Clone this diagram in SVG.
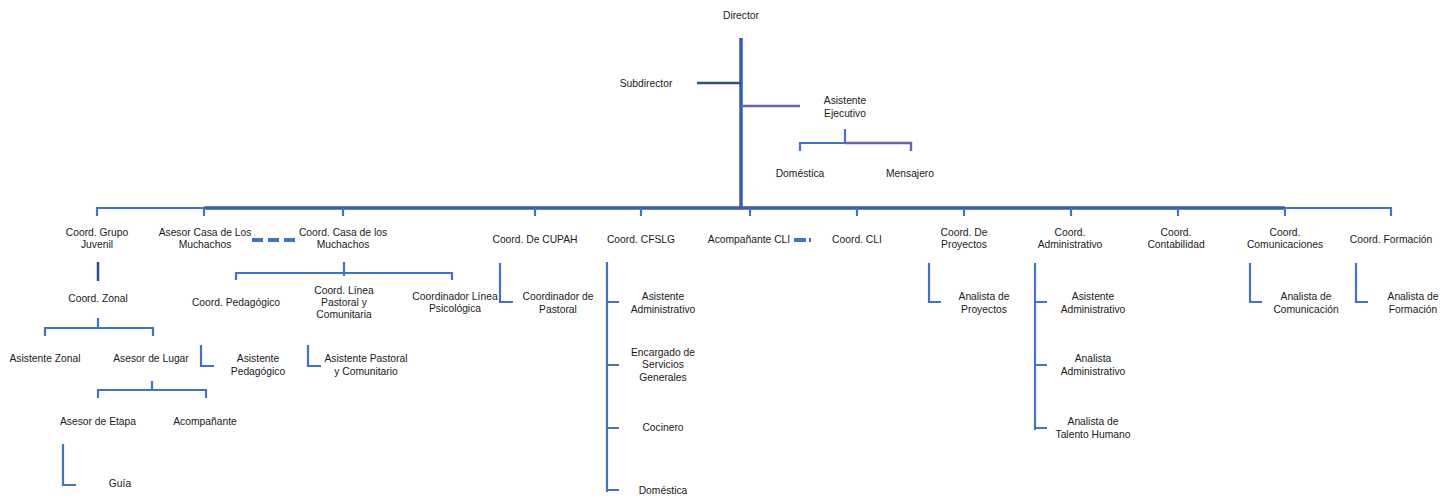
<svg xmlns="http://www.w3.org/2000/svg" width="1454" height="498" viewBox="0 0 1454 498">
<style>
text{font-family:"Liberation Sans",Arial,sans-serif;font-size:10.3px;fill:#1a1a1a;text-anchor:middle}
.c{fill:none;stroke:#4472C4;stroke-width:2.2}
.d{fill:none;stroke:#3A5BA8;stroke-width:3.5}
.k{fill:none;stroke:#2F4C8C;stroke-width:2.5}
.p{fill:none;stroke:#6B62B4;stroke-width:2.4}
</style>
<rect width="1454" height="498" fill="#fff"/>
<g id="connectors">
<path class="d" d="M741 38V208" stroke-width="4.2"/>
<path class="k" d="M697 83H741"/>
<path class="p" d="M741 106H800"/>
<path class="c" d="M845 129V143M800 151V143H845" stroke-width="3"/>
<path class="p" d="M845 143H911V151"/>
<path class="d" d="M204 208H1285"/>
<path class="c" d="M97 216V208H204M1285 208H1391V216" stroke-width="2.8"/>
<path class="c" d="M204 208V216M343 208V216M535 208V216M641 208V216M750 208V216M857 208V216M964 208V216M1071 208V216M1178 208V216M1285 208V216"/>
<path d="M252 240H296" stroke="#4472C4" stroke-width="4" stroke-dasharray="11 5"/>
<path d="M794 240H806M809 240H811" stroke="#4472C4" stroke-width="4"/>
<path class="k" d="M98 262V281"/>
<path class="c" d="M98 318V328M45 336V328H153V336"/>
<path class="c" d="M152 381V390M98 398V390H206V398"/>
<path class="c" d="M63 444V485H76"/>
<path class="c" d="M344 262V276M236 280V273H452V280" stroke-width="2.6"/>
<path class="c" d="M201 345V366H214M308 345V366H321"/>
<path class="c" d="M500 263V302H513"/>
<path class="c" d="M607 262V492" stroke-width="3"/>
<path class="c" d="M607 302H619M607 365H619M607 428H619M607 490H619"/>
<path class="c" d="M929 263V302H941"/>
<path class="c" d="M1035 263V430" stroke-width="3"/>
<path class="c" d="M1035 302H1047M1035 365H1047M1035 428H1047"/>
<path class="c" d="M1250 263V302H1262M1356 263V302H1368"/>
</g>
<g id="n-director"><text x="741" y="19">Director</text></g>
<g id="n-subdirector"><text x="646" y="87">Subdirector</text></g>
<g id="n-asistente-ejecutivo"><text x="845" y="104">Asistente</text><text x="845" y="117">Ejecutivo</text></g>
<g id="n-domestica1"><text x="800" y="177">Doméstica</text></g>
<g id="n-mensajero"><text x="910" y="177">Mensajero</text></g>
<g id="n-grupo-juvenil"><text x="97" y="236">Coord. Grupo</text><text x="97" y="248">Juvenil</text></g>
<g id="n-asesor-casa"><text x="205" y="236">Asesor Casa de Los</text><text x="205" y="248">Muchachos</text></g>
<g id="n-casa-muchachos"><text x="343" y="236">Coord. Casa de los</text><text x="343" y="248">Muchachos</text></g>
<g id="n-cupah"><text x="535" y="243">Coord. De CUPAH</text></g>
<g id="n-cfslg"><text x="641" y="243">Coord. CFSLG</text></g>
<g id="n-acomp-cli"><text x="749" y="243">Acompañante CLI</text></g>
<g id="n-cli"><text x="857" y="243">Coord. CLI</text></g>
<g id="n-proyectos"><text x="964" y="236">Coord. De</text><text x="964" y="248">Proyectos</text></g>
<g id="n-administrativo"><text x="1070" y="236">Coord.</text><text x="1070" y="248">Administrativo</text></g>
<g id="n-contabilidad"><text x="1176" y="236">Coord.</text><text x="1176" y="248">Contabilidad</text></g>
<g id="n-comunicaciones"><text x="1285" y="236">Coord.</text><text x="1285" y="248">Comunicaciones</text></g>
<g id="n-formacion"><text x="1391" y="243">Coord. Formación</text></g>
<g id="n-zonal"><text x="98" y="302">Coord. Zonal</text></g>
<g id="n-asist-zonal"><text x="45" y="362">Asistente Zonal</text></g>
<g id="n-asesor-lugar"><text x="151" y="362">Asesor de Lugar</text></g>
<g id="n-asesor-etapa"><text x="98" y="425">Asesor de Etapa</text></g>
<g id="n-acompanante"><text x="205" y="425">Acompañante</text></g>
<g id="n-guia"><text x="120" y="487">Guía</text></g>
<g id="n-pedagogico"><text x="236" y="306">Coord. Pedagógico</text></g>
<g id="n-linea-pastoral"><text x="344" y="294">Coord. Línea</text><text x="344" y="306">Pastoral y</text><text x="344" y="318">Comunitaria</text></g>
<g id="n-linea-psico"><text x="455" y="300">Coordinador Línea</text><text x="455" y="312">Psicológica</text></g>
<g id="n-asist-pedagogico"><text x="258" y="362">Asistente</text><text x="258" y="375">Pedagógico</text></g>
<g id="n-asist-pastoral"><text x="366" y="362">Asistente Pastoral</text><text x="366" y="375">y Comunitario</text></g>
<g id="n-coord-pastoral"><text x="558" y="300">Coordinador de</text><text x="558" y="313">Pastoral</text></g>
<g id="n-cfslg-asist"><text x="663" y="300">Asistente</text><text x="663" y="313">Administrativo</text></g>
<g id="n-servicios"><text x="663" y="356">Encargado de</text><text x="663" y="368">Servicios</text><text x="663" y="381">Generales</text></g>
<g id="n-cocinero"><text x="663" y="431">Cocinero</text></g>
<g id="n-domestica2"><text x="663" y="494">Doméstica</text></g>
<g id="n-analista-proy"><text x="984" y="300">Analista de</text><text x="984" y="313">Proyectos</text></g>
<g id="n-adm-asist"><text x="1093" y="300">Asistente</text><text x="1093" y="313">Administrativo</text></g>
<g id="n-adm-analista"><text x="1093" y="362">Analista</text><text x="1093" y="375">Administrativo</text></g>
<g id="n-talento"><text x="1093" y="425">Analista de</text><text x="1093" y="438">Talento Humano</text></g>
<g id="n-analista-com"><text x="1306" y="300">Analista de</text><text x="1306" y="313">Comunicación</text></g>
<g id="n-analista-form"><text x="1413" y="300">Analista de</text><text x="1413" y="313">Formación</text></g>
</svg>
